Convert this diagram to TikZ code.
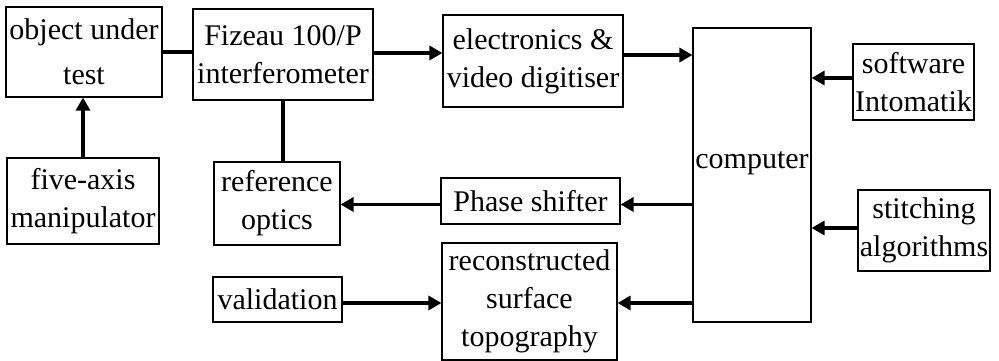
\documentclass[tikz,border=0pt]{standalone}
\usepackage{fontspec}
\setmainfont{Liberation Serif}
\usetikzlibrary{arrows.meta}
\begin{document}
\begin{tikzpicture}[x=1pt,y=-1pt,
  blk/.style={draw, line width=1.1pt, inner sep=0pt, align=center,
              font=\fontsize{30}{38}\selectfont},
  link/.style={line width=3.2pt},
  flow/.style={link, -{Triangle[length=13pt,width=14pt]}}]
\useasboundingbox (0,0) rectangle (999,361);

% blocks
\node[blk, minimum width=156pt, minimum height=90pt] (obj) at (84,52) {object under\\[7pt]test};
\node[blk, minimum width=180pt, minimum height=91pt] (fiz) at (283,54.5) {Fizeau 100/P\\interferometer};
\node[blk, minimum width=180pt, minimum height=92pt] (elec) at (533,61) {electronics \&\\video digitiser};
\node[blk, minimum width=118pt, minimum height=294pt, text depth=30pt] (comp) at (752,175) {computer};
\node[blk, minimum width=121pt, minimum height=76pt] (soft) at (913.5,82) {software\\Intomatik};
\node[blk, minimum width=132pt, minimum height=81pt] (stitch) at (924,230.5) {stitching\\algorithms};
\node[blk, minimum width=152pt, minimum height=86pt] (five) at (83,201) {five-axis\\manipulator};
\node[blk, minimum width=126pt, minimum height=83pt] (ref) at (277,203.5) {reference\\optics};
\node[blk, minimum width=179pt, minimum height=46pt] (phase) at (530.5,201) {Phase shifter};
\node[blk, minimum width=129pt, minimum height=45pt] (valid) at (277.5,299.5) {validation};
\node[blk, minimum width=175pt, minimum height=117pt] (recon) at (529.5,301.5) {reconstructed\\surface\\topography};

% connectors
\draw[link] ([yshift=0pt]obj.east) -- ([yshift=0pt]obj.east -| fiz.west);
\draw[flow] ([yshift=1.5pt]fiz.east) -- ([yshift=1.5pt]fiz.east -| elec.west);
\draw[flow] ([yshift=6pt]elec.east) -- ([yshift=6pt]elec.east -| comp.west);
\draw[flow] (five.north) -- (five.north |- obj.south);
\draw[link] (fiz.south) -- (fiz.south |- ref.north);
\draw[flow] ([yshift=-3.5pt]phase.west) -- ([yshift=-3.5pt]phase.west -| ref.east);
\draw[flow] ([yshift=-3.5pt]phase.east -| comp.west) -- ([yshift=-3.5pt]phase.east);
\draw[flow] ([yshift=4pt]soft.west) -- ([yshift=4pt]soft.west -| comp.east);
\draw[flow] ([yshift=2.5pt]stitch.west) -- ([yshift=2.5pt]stitch.west -| comp.east);
\draw[flow] ([yshift=-1.5pt]recon.east -| comp.west) -- ([yshift=-1.5pt]recon.east);
\draw[flow] ([yshift=-3.5pt]valid.east) -- ([yshift=-3.5pt]valid.east -| recon.west);
\end{tikzpicture}
\end{document}
